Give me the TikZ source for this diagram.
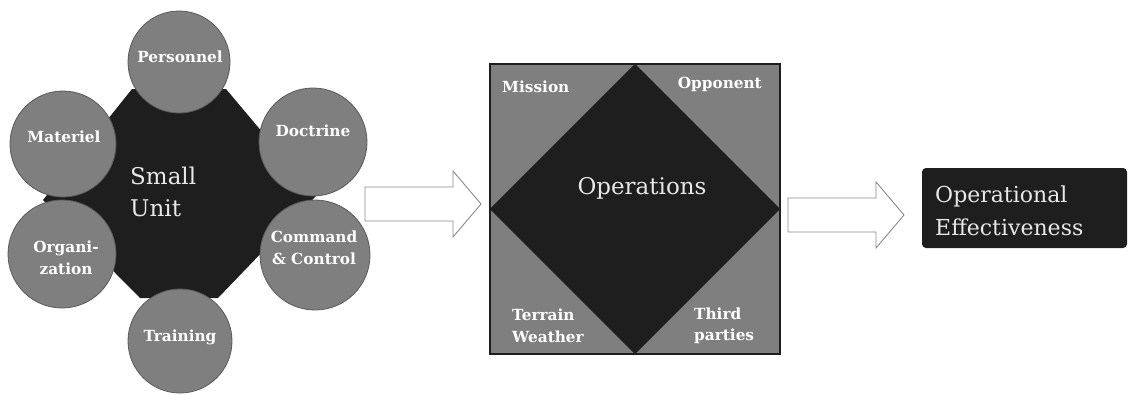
\documentclass[tikz,border=0pt]{standalone}
\usepackage{fontspec}
\setmainfont{DejaVu Serif}
\definecolor{darkfill}{HTML}{1E1E1E}
\definecolor{grayfill}{HTML}{7F7F7F}
\definecolor{grayedge}{HTML}{5A5A5A}
\definecolor{lighttext}{HTML}{E8E8E8}
\definecolor{arrowline}{HTML}{8A8A8A}
\begin{document}
\begin{tikzpicture}[x=1pt,y=-1pt,
  factor/.style={circle, fill=grayfill, draw=grayedge, line width=0.8pt, inner sep=0pt, minimum size=#1},
  factor/.default=108,
  smalllabel/.style={text=white, font=\fontsize{15.3}{21.5}\selectfont\bfseries, inner sep=0pt, align=center},
  biglabel/.style={text=lighttext, font=\fontsize{23}{32}\selectfont, inner sep=0pt},
  blockarrow/.style={draw=arrowline, fill=white, line width=0.9pt, line join=miter}
]
\useasboundingbox (0,0) rectangle (1129,394);

% small unit core
\fill[darkfill] (132,89) -- (226,89) -- (316,196) -- (218,298) -- (140,298) -- (43,200) -- cycle;

% the six factors around the small unit
\node[factor=102] (personnel) at (179,62) {};
\node[factor=106] (materiel)  at (63,144) {};
\node[factor=108] (doctrine)  at (313,142) {};
\node[factor=108] (organization) at (62,254) {};
\node[factor=110] (command)   at (315,255) {};
\node[factor=104] (training)  at (180,341) {};

\node[smalllabel] (personnel-t) at (180,57) {Personnel};
\node[smalllabel] (materiel-t) at (64,137) {Materiel};
\node[smalllabel] (doctrine-t) at (313,131) {Doctrine};
\node[smalllabel] (organization-t) at (66,258) {Organi-\\zation};
\node[smalllabel] (command-t) at (314,248) {Command\\\& Control};
\node[smalllabel] (training-t) at (180,337) {Training};

\node[biglabel, align=left, anchor=west] (unit-t) at (130,192) {Small\\Unit};

% first block arrow
\draw[blockarrow] (365,187) -- (453,187) -- (453,171) -- (481,204) -- (453,237) -- (453,221) -- (365,221) -- cycle;

% operations square with its diamond
\node[fill=grayfill, minimum size=290, inner sep=0pt] (ops) at (635,209) {};
\fill[darkfill] (ops.north) -- (ops.east) -- (ops.south) -- (ops.west) -- cycle;
\draw[draw=darkfill, line width=2pt] (ops.north west) rectangle (ops.south east);

\node[smalllabel, anchor=west] (mission-t) at (502,87) {Mission};
\node[smalllabel, anchor=east] (opponent-t) at (762,84) {Opponent};
\node[smalllabel, anchor=west, align=left] (terrain-t) at (512,326) {Terrain\\Weather};
\node[smalllabel, anchor=west, align=left] (third-t) at (694,326) {Third\\parties};
\node[biglabel] (ops-t) at (642,188) {Operations};

% second block arrow
\draw[blockarrow] (788,198) -- (876,198) -- (876,182) -- (904,215) -- (876,248) -- (876,232) -- (788,232) -- cycle;

% outcome
\node[fill=darkfill, rounded corners=4pt, minimum width=205, minimum height=80, inner sep=0pt] (effect) at (1024.5,208) {};
\node[text=lighttext, font=\fontsize{22}{33}\selectfont, align=left, anchor=west, inner sep=0pt] (effect-t) at (935,211) {Operational\\Effectiveness};
\end{tikzpicture}
\end{document}
